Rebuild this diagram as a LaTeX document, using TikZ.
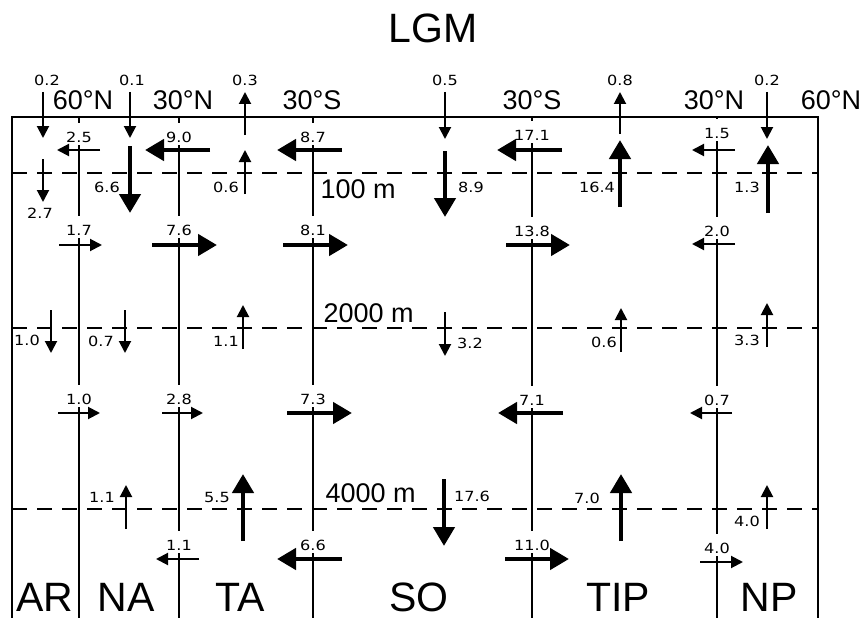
\documentclass[tikz,border=0pt]{standalone}
\usepackage{fontspec}
\setmainfont{Liberation Sans}
\newfontfamily\numfont[FakeStretch=1.15]{DejaVu Sans}
\usetikzlibrary{arrows.meta}

\begin{document}
\begin{tikzpicture}[x=1pt,y=-1pt,
  wall/.style={line width=2pt},
  seg/.style={line width=2pt,shorten <=2pt,shorten >=8pt},
  depthline/.style={line width=2pt,dash pattern=on 15pt off 10pt},
  thinarr/.style={line width=2pt,-{Triangle[length=12pt,width=12pt]}},
  thickarr/.style={line width=4.5pt,-{Triangle[length=19pt,width=21pt]}},
  num/.style={font=\numfont\fontsize{14}{14}\selectfont,inner sep=1pt},
  lat/.style={font=\fontsize{27}{27}\selectfont,anchor=base},
  dep/.style={font=\fontsize{27}{27}\selectfont,anchor=base west},
  basin/.style={font=\fontsize{41}{41}\selectfont,anchor=base}]
  \useasboundingbox (0,0) rectangle (863,618);

  \node[basin] (title) at (433,43) {LGM};
  % latitudes
  \node[lat] (lat1) at (83,110)  {60°N};
  \node[lat] (lat2) at (183,110) {30°N};
  \node[lat] (lat3) at (312,110) {30°S};
  \node[lat] (lat4) at (532,110) {30°S};
  \node[lat] (lat5) at (714,110) {30°N};
  \node[lat] (lat6) at (831,110) {60°N};

  % ocean box and depth levels
  \draw[wall] (12,618) -- (12,117) -- (818,117) -- (818,618);
  \draw[depthline] (12,173) -- (818,173);
  \draw[depthline] (12,328) -- (818,328);
  \draw[depthline] (12,509) -- (818,509);
  \node[dep] (m100)  at (317,198) {100 m};
  \node[dep] (m2000) at (320,322) {2000 m};
  \node[dep] (m4000) at (322,502) {4000 m};

  % basin boundaries with meridional transports
  \node[num] (d1a) at (79,137) {2.5};
  \node[num] (d1b) at (79,230) {1.7};
  \node[num] (d1c) at (79,399) {1.0};
  \node[num] (d2a) at (179,137) {9.0};
  \node[num] (d2b) at (179,230) {7.6};
  \node[num] (d2c) at (179,399) {2.8};
  \node[num] (d2d) at (179,545) {1.1};
  \node[num] (d3a) at (313,137) {8.7};
  \node[num] (d3b) at (313,230) {8.1};
  \node[num] (d3c) at (313,399) {7.3};
  \node[num] (d3d) at (313,545) {6.6};
  \node[num] (d4a) at (532,135) {17.1};
  \node[num] (d4b) at (532,231) {13.8};
  \node[num] (d4c) at (532,400) {7.1};
  \node[num] (d4d) at (532,545) {11.0};
  \node[num] (d5a) at (717,133) {1.5};
  \node[num] (d5b) at (717,231) {2.0};
  \node[num] (d5c) at (717,400) {0.7};
  \node[num] (d5d) at (717,548) {4.0};
  \coordinate (t1) at (79,117);  \coordinate (b1) at (79,618);
  \coordinate (t2) at (179,117); \coordinate (b2) at (179,618);
  \coordinate (t3) at (313,117); \coordinate (b3) at (313,618);
  \coordinate (t4) at (532,117); \coordinate (b4) at (532,618);
  \coordinate (t5) at (717,117); \coordinate (b5) at (717,618);
  \draw[wall,shorten >=8pt] (t1) -- (d1a.north);
  \draw[seg] (d1a) -- (d1b); \draw[seg] (d1b) -- (d1c);
  \draw[wall,shorten <=2pt] (d1c) -- (b1);
  \draw[wall,shorten >=8pt] (t2) -- (d2a.north);
  \draw[seg] (d2a) -- (d2b); \draw[seg] (d2b) -- (d2c); \draw[seg] (d2c) -- (d2d);
  \draw[wall,shorten <=2pt] (d2d) -- (b2);
  \draw[wall,shorten >=8pt] (t3) -- (d3a.north);
  \draw[seg] (d3a) -- (d3b); \draw[seg] (d3b) -- (d3c); \draw[seg] (d3c) -- (d3d);
  \draw[wall,shorten <=2pt] (d3d) -- (b3);
  \draw[wall,shorten >=8pt] (t4) -- (d4a.north);
  \draw[seg] (d4a) -- (d4b); \draw[seg] (d4b) -- (d4c); \draw[seg] (d4c) -- (d4d);
  \draw[wall,shorten <=2pt] (d4d) -- (b4);
  \draw[wall,shorten >=8pt] (t5) -- (d5a.north);
  \draw[seg] (d5a) -- (d5b); \draw[seg] (d5b) -- (d5c); \draw[seg] (d5c) -- (d5d);
  \draw[wall,shorten <=2pt] (d5d) -- (b5);

  % horizontal transports
  \draw[thinarr]  (100,150) -- (57,150);
  \draw[thickarr] (210,150) -- (145,150);
  \draw[thickarr] (342,150) -- (277,150);
  \draw[thickarr] (562,150) -- (497,150);
  \draw[thinarr]  (735,150) -- (692,150);
  \draw[thinarr]  (59,245) -- (102,245);
  \draw[thickarr] (152,245) -- (217,245);
  \draw[thickarr] (283,245) -- (348,245);
  \draw[thickarr] (506,245) -- (570,245);
  \draw[thinarr]  (735,244) -- (692,244);
  \draw[thinarr]  (58,413) -- (100,413);
  \draw[thinarr]  (162,413) -- (203,413);
  \draw[thickarr] (287,413) -- (352,413);
  \draw[thickarr] (563,413) -- (498,413);
  \draw[thinarr]  (732,413) -- (690,413);
  \draw[thinarr]  (199,559) -- (156,559);
  \draw[thickarr] (342,559) -- (277,559);
  \draw[thickarr] (505,559) -- (569,559);
  \draw[thinarr]  (700,562) -- (743,562);

  % surface fluxes
  \node[num] (s1) at (47,80) {0.2};  \draw[thinarr] (43,92) -- (43,138);
  \node[num] (s2) at (132,80) {0.1}; \draw[thinarr] (130,92) -- (130,138);
  \node[num] (s3) at (245,80) {0.3}; \draw[thinarr] (245,135) -- (245,92);
  \node[num] (s4) at (445,80) {0.5}; \draw[thinarr] (445,92) -- (445,139);
  \node[num] (s5) at (620,80) {0.8}; \draw[thinarr] (620,134) -- (620,92);
  \node[num] (s6) at (767,80) {0.2}; \draw[thinarr] (767,92) -- (767,139);

  % vertical transports across 100 m
  \node[num] (u1) at (40,213) {2.7};  \draw[thinarr] (43,159) -- (43,202);
  \node[num] (u2) at (107,187) {6.6}; \draw[thickarr] (130,146) -- (130,213);
  \node[num] (u3) at (226,187) {0.6}; \draw[thinarr] (245,194) -- (245,150);
  \node[num] (u4) at (471,187) {8.9}; \draw[thickarr] (445,151) -- (445,217);
  \node[num] (u5) at (597,187) {16.4}; \draw[thickarr] (620,207) -- (620,140);
  \node[num] (u6) at (747,187) {1.3}; \draw[thickarr] (768,213) -- (768,145);

  % vertical transports across 2000 m
  \node[num] (m1) at (27,340) {1.0};  \draw[thinarr] (51,310) -- (51,353);
  \node[num] (m2) at (101,341) {0.7}; \draw[thinarr] (125,310) -- (125,353);
  \node[num] (m3) at (226,341) {1.1}; \draw[thinarr] (243,349) -- (243,305);
  \node[num] (m4) at (470,343) {3.2}; \draw[thinarr] (445,312) -- (445,356);
  \node[num] (m5) at (604,342) {0.6}; \draw[thinarr] (621,352) -- (621,308);
  \node[num] (m6) at (747,340) {3.3}; \draw[thinarr] (767,347) -- (767,303);

  % vertical transports across 4000 m
  \node[num] (k1) at (102,497) {1.1}; \draw[thinarr] (126,529) -- (126,485);
  \node[num] (k2) at (217,497) {5.5}; \draw[thickarr] (243,541) -- (243,474);
  \node[num] (k3) at (472,496) {17.6}; \draw[thickarr] (444,479) -- (444,546);
  \node[num] (k4) at (587,498) {7.0}; \draw[thickarr] (621,541) -- (621,474);
  \node[num] (k5) at (747,521) {4.0}; \draw[thinarr] (767,529) -- (767,485);

  % basins
  \node[basin] (ar)  at (45,611)  {AR};
  \node[basin] (na)  at (126,611) {NA};
  \node[basin] (ta)  at (240,611) {TA};
  \node[basin] (so)  at (419,611) {SO};
  \node[basin] (tip) at (618,611) {TIP};
  \node[basin] (np)  at (769,611) {NP};
\end{tikzpicture}
\end{document}
